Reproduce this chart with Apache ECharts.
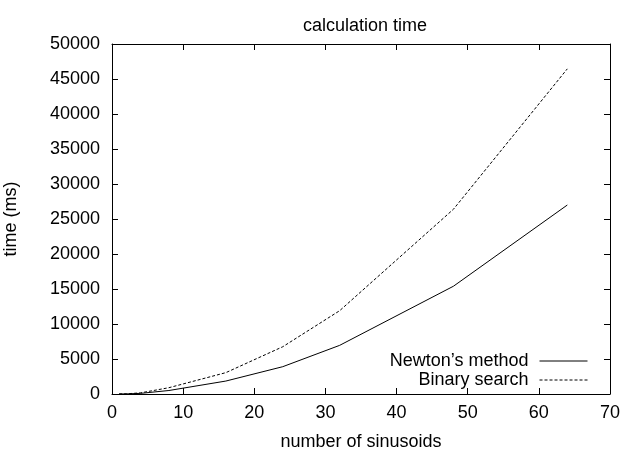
<!DOCTYPE html>
<html><head><meta charset="utf-8">
<script src="https://cdn.jsdelivr.net/npm/echarts@6/dist/echarts.min.js"></script>
<style>html,body{margin:0;padding:0;background:#fff}#c{width:630px;height:453px}</style>
</head><body><div id="c"></div>
<script>
const sinusoids = [1, 2, 4, 8, 16, 24, 32, 48, 64];
const newton = [5, 15, 90, 500, 1850, 3900, 6950, 15400, 27000];
const binary = [8, 25, 160, 900, 3050, 6750, 11900, 26400, 46450];
const seriesNames = ["Newton\u2019s method", "Binary search"];
const titleText = "calculation time";
const xName = "number of sinusoids";
const yName = "time (ms)";

const font = "'Liberation Sans', Arial, Helvetica, sans-serif";
const fs = 18;
const chart = echarts.init(document.getElementById('c'), null, {renderer: 'canvas'});
const axisCommon = {
  axisLine: {show: true, onZero: false, lineStyle: {color: '#000', width: 1}},
  axisTick: {show: true, inside: true, length: 6, lineStyle: {color: '#000'}},
  splitLine: {show: false}
};
chart.setOption({
  animation: false,
  backgroundColor: '#fff',
  title: {text: titleText, left: 360, top: 12, textAlign: 'center',
    textStyle: {fontFamily: font, fontSize: fs, fontWeight: 'normal', color: '#000'}},
  grid: {left: 112, right: 20, top: 44, bottom: 59, containLabel: false, outerBoundsMode: 'none'},
  legend: {
    right: 37, top: 347, orient: 'vertical', align: 'right', itemGap: 1,
    itemWidth: 48, itemHeight: 12,
    itemStyle: {opacity: 0},
    lineStyle: {width: 1},
    textStyle: {fontFamily: font, fontSize: fs, color: '#000', padding: [0, 6, 0, 0]},
    data: seriesNames
  },
  xAxis: [
    Object.assign({type: 'value', min: 0, max: 70, interval: 10, position: 'bottom',
      name: xName, nameLocation: 'middle', nameGap: 39,
      nameTextStyle: {fontFamily: font, fontSize: fs, color: '#000'},
      axisLabel: {fontFamily: font, fontSize: fs, color: '#000', margin: 10}}, axisCommon),
    Object.assign({type: 'value', min: 0, max: 70, interval: 10, position: 'top',
      axisLabel: {show: false}}, axisCommon)
  ],
  yAxis: [
    Object.assign({type: 'value', min: 0, max: 50000, interval: 5000, position: 'left',
      name: yName, nameLocation: 'middle', nameGap: 92, nameRotate: 90,
      nameTextStyle: {fontFamily: font, fontSize: fs, color: '#000'},
      axisLabel: {fontFamily: font, fontSize: fs, color: '#000', margin: 12,
        formatter: v => String(v)}}, axisCommon),
    Object.assign({type: 'value', min: 0, max: 50000, interval: 5000, position: 'right',
      axisLabel: {show: false}}, axisCommon)
  ],
  series: [
    {name: seriesNames[0], type: 'line', symbol: 'none',
      data: sinusoids.map((x, i) => [x, newton[i]]),
      lineStyle: {color: '#000', width: 1, type: 'solid'}, itemStyle: {color: '#000'}},
    {name: seriesNames[1], type: 'line', symbol: 'none',
      data: sinusoids.map((x, i) => [x, binary[i]]),
      lineStyle: {color: '#000', width: 1, type: [3, 2]}, itemStyle: {color: '#000'}}
  ]
});
</script></body></html>
